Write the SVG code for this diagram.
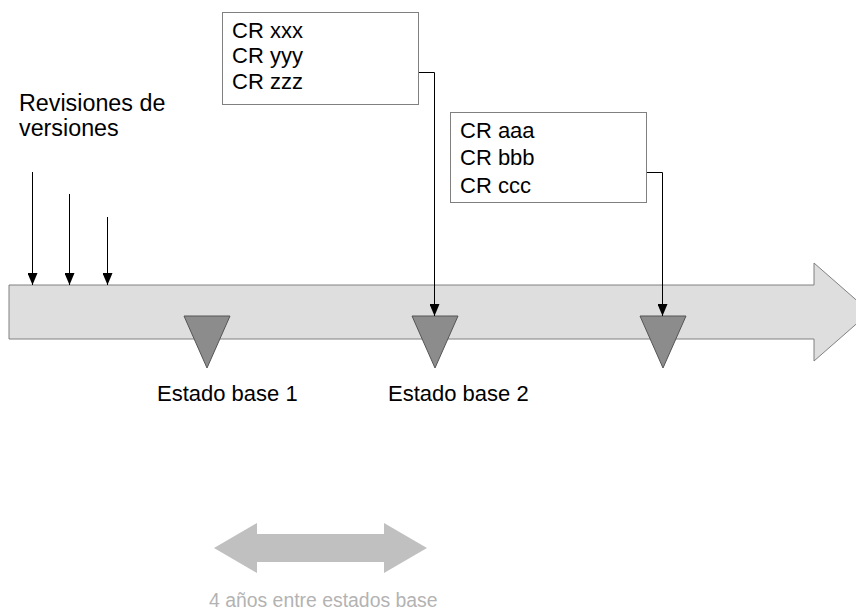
<svg xmlns="http://www.w3.org/2000/svg" width="856" height="612" viewBox="0 0 856 612">
<defs>
<style>
text{font-family:"Liberation Sans",Arial,sans-serif;font-size:22px;fill:#000}
.box{fill:#fff;stroke:#808080;stroke-width:1}
.tri{fill:#8c8c8c;stroke:#555;stroke-width:1}
.conn{fill:none;stroke:#000;stroke-width:1}
.gray{fill:#b3b3b3;font-size:19.4px}
.rev{font-size:23.3px}
</style>
<marker id="ah" viewBox="0 0 12 10" refX="12" refY="5" markerWidth="12" markerHeight="10" markerUnits="userSpaceOnUse" orient="auto">
<path d="M0,0 L12,5 L0,10 Z" fill="#000"/>
</marker>
</defs>
<rect width="856" height="612" fill="#fff"/>
<g id="timeline">
<path d="M9,285 L814,285 L814,263 L870,312 L814,361 L814,339 L9,339 Z" fill="#dedede" stroke="#808080" stroke-width="1"/>
</g>
<g id="base1"><path class="tri" d="M184,316 L230,316 L207,368 Z"/></g>
<g id="base2"><path class="tri" d="M412,316 L458,316 L435,368 Z"/></g>
<g id="base3"><path class="tri" d="M640,316 L686,316 L663,368 Z"/></g>
<g id="box1">
<rect class="box" x="222.5" y="12.5" width="196" height="92"/>
<text x="232" y="38">CR xxx</text>
<text x="232" y="63">CR yyy</text>
<text x="232" y="89">CR zzz</text>
</g>
<g id="box2">
<rect class="box" x="450.5" y="112.5" width="196" height="90"/>
<text x="460" y="138">CR aaa</text>
<text x="460" y="165">CR bbb</text>
<text x="460" y="193">CR ccc</text>
</g>
<g id="rev-label">
<text class="rev" x="19" y="111">Revisiones de</text>
<text class="rev" x="19" y="136">versiones</text>
</g>
<g id="labels">
<text x="157" y="401">Estado base 1</text>
<text x="388" y="401">Estado base 2</text>
</g>
<g id="duration">
<path d="M214,548 L257,523 L257,534 L384,534 L384,523 L427,548 L384,573 L384,562 L257,562 L257,573 Z" fill="#c0c0c0"/>
<text class="gray" x="209" y="607">4 años entre estados base</text>
</g>
<g id="connectors">
<path class="conn" d="M32.5,172 V285" marker-end="url(#ah)"/>
<path class="conn" d="M69.5,194 V285" marker-end="url(#ah)"/>
<path class="conn" d="M107.5,217 V285" marker-end="url(#ah)"/>
<path class="conn" d="M419,72.5 H434.5 V316" marker-end="url(#ah)"/>
<path class="conn" d="M647,172.5 H662.5 V316" marker-end="url(#ah)"/>
</g>
</svg>
